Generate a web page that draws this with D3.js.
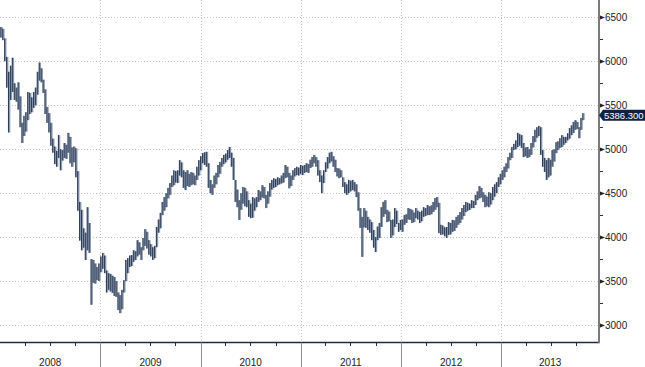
<!DOCTYPE html>
<html>
<head>
<meta charset="utf-8">
<script src="https://cdn.jsdelivr.net/npm/d3@7"></script>
<style>
  html, body { margin: 0; padding: 0; background: #fff; }
  svg { display: block; }
  text { font-family: "Liberation Sans", Arial, sans-serif; }
</style>
</head>
<body>
<div id="chart"></div>
<script>
// weekly bars, first one ends on this date
const firstWeek = new Date(2008, 0, 4);

// weekly highs (2008 .. 2013)
const weekHigh = [
  // 2008
  6390,6370,6260,6050,5880,5950,6040,5750,5700,5760,
  5600,5300,5380,5420,5650,5640,5590,5650,5700,5880,
  5985,5920,5790,5680,5480,5410,5300,5120,5030,4980,
  5160,5000,4990,5070,5050,5185,5140,5020,5030,5010,
  4750,4400,4310,4100,4050,4340,4160,3750,3740,3700,
  3660,3700,
  // 2009
  3780,3820,3790,3620,3590,3580,3560,3545,3500,3370,
  3340,3400,3510,3740,3760,3790,3795,3850,3840,3965,
  3940,3885,3990,4090,4060,3965,3920,3885,3900,4115,
  4200,4275,4400,4455,4500,4560,4615,4700,4760,4750,
  4760,4875,4850,4760,4740,4760,4720,4740,4730,4700,
  4800,4875,
  // 2010
  4920,4955,4965,4970,4840,4650,4600,4700,4730,4820,
  4855,4900,4935,4950,4990,5025,4960,4900,4650,4540,
  4420,4500,4570,4560,4520,4420,4380,4455,4440,4455,
  4535,4520,4590,4570,4480,4520,4615,4650,4670,4660,
  4680,4670,4700,4730,4820,4800,4730,4700,4760,4785,
  4800,4790,
  // 2011
  4820,4810,4820,4840,4830,4880,4910,4935,4910,4875,
  4760,4700,4760,4850,4910,4960,4970,4920,4880,4785,
  4780,4760,4680,4625,4600,4650,4640,4650,4625,4600,
  4510,4330,4230,4330,4300,4230,4200,4170,4080,4000,
  4120,4160,4340,4400,4420,4310,4290,4195,4200,4330,
  4300,4160,
  // 2012
  4195,4200,4250,4260,4330,4320,4310,4280,4330,4300,
  4285,4300,4340,4330,4365,4350,4360,4400,4445,4455,
  4390,4140,4130,4110,4115,4170,4160,4195,4190,4230,
  4250,4285,4330,4365,4400,4390,4380,4420,4410,4480,
  4520,4580,4560,4510,4480,4460,4510,4500,4570,4600,
  4625,4680,4720,
  // 2013
  4760,4800,4840,4910,4960,5025,5060,5100,5185,5170,
  5160,5070,5020,5025,5000,5070,5150,5220,5250,5265,
  5250,4990,4900,4875,4900,4880,4990,5000,5080,5090,
  5125,5160,5140,5140,5180,5240,5270,5310,5330,5310,
  5250,5355,5410
];

// weekly lows
const weekLow = [
  // 2008
  6270,6240,6000,5700,5190,5560,5650,5560,5540,5450,
  5250,5070,5150,5200,5330,5400,5420,5470,5500,5620,
  5780,5760,5640,5400,5300,5190,5040,4960,4830,4800,
  4900,4760,4870,4900,4890,4960,4840,4800,4850,4680,
  4300,3960,3850,3880,3740,3850,3820,3230,3480,3470,
  3510,3500,
  // 2009
  3600,3640,3590,3370,3400,3380,3365,3330,3320,3170,
  3135,3180,3370,3500,3590,3660,3670,3720,3740,3780,
  3800,3740,3850,3900,3870,3800,3780,3740,3760,3885,
  4050,4100,4250,4300,4340,4440,4480,4570,4590,4620,
  4615,4700,4680,4560,4535,4580,4570,4590,4600,4590,
  4650,4700,
  // 2010
  4760,4840,4820,4800,4560,4500,4480,4560,4600,4680,
  4720,4800,4830,4850,4880,4900,4800,4650,4400,4340,
  4195,4310,4380,4350,4340,4230,4215,4220,4300,4340,
  4400,4420,4450,4440,4330,4380,4460,4540,4560,4570,
  4590,4600,4610,4620,4670,4680,4555,4580,4650,4690,
  4705,4700,
  // 2011
  4720,4705,4730,4740,4730,4785,4800,4840,4800,4700,
  4625,4500,4615,4740,4780,4840,4860,4800,4740,4690,
  4670,4680,4570,4500,4480,4500,4520,4535,4520,4455,
  4300,4105,3775,4110,4105,4080,4050,3965,3880,3830,
  3965,3990,4115,4230,4260,4170,4180,3990,4020,4115,
  4150,4060,
  // 2012
  4080,4060,4140,4160,4200,4195,4160,4170,4215,4200,
  4160,4180,4230,4240,4250,4250,4260,4285,4310,4340,
  4045,4025,4030,4010,3990,4025,4030,4060,4070,4105,
  4140,4160,4200,4240,4285,4300,4310,4330,4330,4365,
  4420,4440,4450,4400,4340,4350,4340,4370,4420,4460,
  4500,4570,4600,
  // 2013
  4650,4680,4740,4780,4875,4900,4990,5000,5025,5040,
  5015,4910,4920,4900,4910,4935,5020,5080,5130,5150,
  4935,4800,4740,4650,4680,4700,4800,4860,4955,4990,
  5015,5025,5050,5070,5100,5120,5160,5185,5220,5230,
  5125,5220,5330
];

const lastValue = 5386.3;
const yTicks = [3000, 3500, 4000, 4500, 5000, 5500, 6000, 6500];
const yMinorTicks = [3250, 3750, 4250, 4750, 5250, 5750, 6250];
const yearLabels = ["2008", "2009", "2010", "2011", "2012", "2013"];

// Dimensiones
const width = 645, height = 367;
const plotRight = 599, axisY = 342.5;

const svg = d3.select("#chart")
  .append("svg")
  .attr("width", width)
  .attr("height", height);

// escalas
const x = d3.scaleTime()
  .domain([new Date(2008, 0, 1), new Date(2014, 0, 1)])
  .range([0, 601.5]);

const y = d3.scaleLinear()
  .domain([3000, 6500])
  .range([325, 17.3]);

const bars = weekHigh.map((h, i) => ({
  date: d3.timeDay.offset(firstWeek, i * 7),
  high: h,
  low: weekLow[i]
}));

// grid horizontal
svg.append("g")
  .selectAll("line")
  .data(yTicks)
  .join("line")
  .attr("x1", 0)
  .attr("x2", plotRight)
  .attr("y1", d => Math.round(y(d)) + 0.5)
  .attr("y2", d => Math.round(y(d)) + 0.5)
  .attr("stroke", "#c4c4c4")
  .attr("stroke-dasharray", "1,2");

// grid vertical (years)
const yearStarts = yearLabels.map(d => new Date(+d, 0, 1));
svg.append("g")
  .selectAll("line")
  .data(yearStarts.slice(1))
  .join("line")
  .attr("x1", d => Math.round(x(d)) + 0.5)
  .attr("x2", d => Math.round(x(d)) + 0.5)
  .attr("y1", 0)
  .attr("y2", axisY)
  .attr("stroke", "#c4c4c4")
  .attr("stroke-dasharray", "1,2");

// barras
const chart = svg.append("g");
chart.selectAll("rect")
  .data(bars)
  .join("rect")
  .attr("x", d => x(d.date) - 0.6)
  .attr("width", 2.4)
  .attr("y", d => y(d.high))
  .attr("height", d => y(d.low) - y(d.high))
  .attr("fill", "#8c9ab0");

chart.selectAll("line")
  .data(bars)
  .join("line")
  .attr("x1", d => x(d.date))
  .attr("x2", d => x(d.date))
  .attr("y1", d => y(d.high))
  .attr("y2", d => y(d.low))
  .attr("stroke", "#14243d")
  .attr("stroke-width", 0.8);

// eje inferior
svg.append("line")
  .attr("x1", 0).attr("x2", plotRight)
  .attr("y1", axisY).attr("y2", axisY)
  .attr("stroke", "#1d2b44")
  .attr("stroke-width", 1.6);

const quarterTicks = d3.timeMonth.every(3)
  .range(new Date(2008, 0, 1), new Date(2014, 0, 1))
  .filter(d => d.getMonth() !== 0 && x(d) < plotRight);

svg.append("g")
  .selectAll("line")
  .data(quarterTicks)
  .join("line")
  .attr("x1", d => Math.round(x(d)) + 0.5)
  .attr("x2", d => Math.round(x(d)) + 0.5)
  .attr("y1", axisY)
  .attr("y2", axisY + 3.5)
  .attr("stroke", "#1d2b44");

svg.append("g")
  .selectAll("line")
  .data(yearStarts.slice(1))
  .join("line")
  .attr("x1", d => Math.round(x(d)) + 0.5)
  .attr("x2", d => Math.round(x(d)) + 0.5)
  .attr("y1", axisY)
  .attr("y2", height)
  .attr("stroke", "#8c8c8c");

svg.append("g")
  .selectAll("text")
  .data(yearStarts)
  .join("text")
  .attr("x", d => {
    const a = x(d);
    const b = Math.min(x(d3.timeYear.offset(d, 1)), plotRight);
    return (a + b) / 2;
  })
  .attr("y", 362)
  .attr("dy", "0.35em")
  .attr("text-anchor", "middle")
  .attr("font-size", "10px")
  .attr("fill", "#222")
  .text((d, i) => yearLabels[i]);

// eje derecho
svg.append("line")
  .attr("x1", plotRight).attr("x2", plotRight)
  .attr("y1", 0).attr("y2", axisY + 0.8)
  .attr("stroke", "#7a7a7a")
  .attr("stroke-width", 2);

svg.append("g")
  .selectAll("line")
  .data(yMinorTicks)
  .join("line")
  .attr("x1", plotRight + 1)
  .attr("x2", plotRight + 4)
  .attr("y1", d => Math.round(y(d)) + 0.5)
  .attr("y2", d => Math.round(y(d)) + 0.5)
  .attr("stroke", "#333");

svg.append("g")
  .selectAll("path")
  .data(yTicks)
  .join("path")
  .attr("d", d => {
    const yy = Math.round(y(d)) + 0.5;
    return `M${plotRight + 1},${yy - 2}L${plotRight + 6},${yy}L${plotRight + 1},${yy + 2}Z`;
  })
  .attr("fill", "#222");

svg.append("g")
  .selectAll("text")
  .data(yTicks)
  .join("text")
  .attr("x", plotRight + 6)
  .attr("y", d => y(d))
  .attr("dy", "0.35em")
  .attr("font-size", "10px")
  .attr("fill", "#222")
  .text(d => d);

// etiqueta del ultimo valor
const ly = y(lastValue);
svg.append("path")
  .attr("d", `M${plotRight},${ly}L${plotRight + 4},${ly - 5.5}H${width}V${ly + 5.5}H${plotRight + 4}Z`)
  .attr("fill", "#0d2243");

svg.append("text")
  .attr("x", plotRight + 5)
  .attr("y", ly)
  .attr("dy", "0.35em")
  .attr("font-size", "9.5px")
  .attr("fill", "#fff")
  .text(lastValue.toFixed(3));
</script>
</body>
</html>
